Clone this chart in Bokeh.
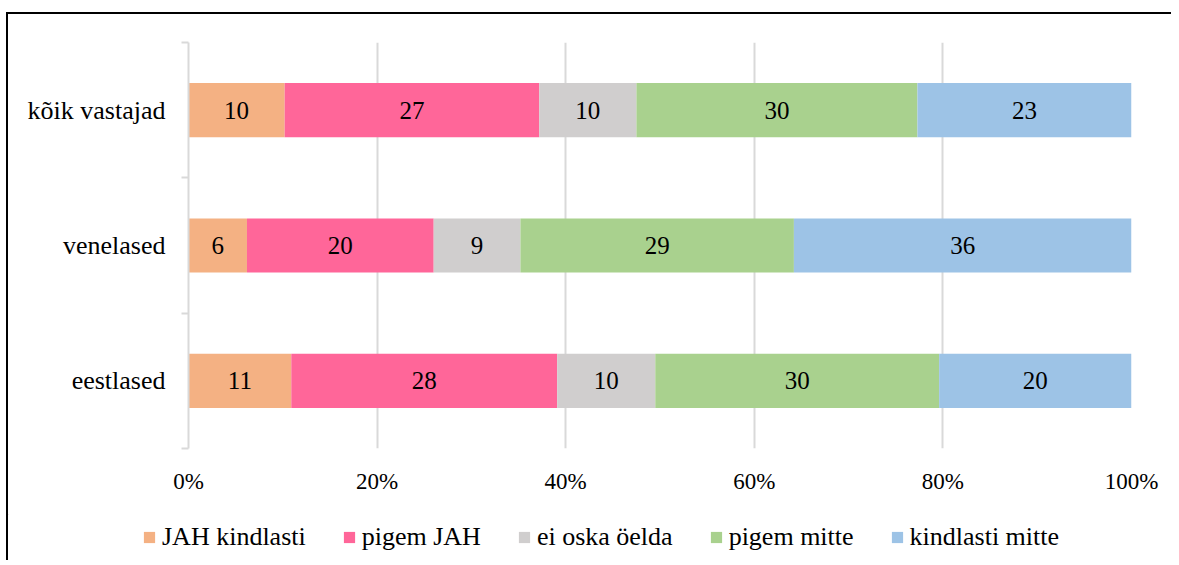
from bokeh.plotting import figure
from bokeh.layouts import column
from bokeh.models import (ColumnDataSource, Range1d, FixedTicker, PrintfTickFormatter,
                          Legend, LegendItem)
from bokeh.core.properties import value
from bokeh.embed import file_html
from bokeh.resources import INLINE

# ---- data (top to bottom) ----
categories = ["kõik vastajad", "venelased", "eestlased"]
series = ["JAH kindlasti", "pigem JAH", "ei oska öelda", "pigem mitte", "kindlasti mitte"]
jah_kindlasti = [10.2, 6.2, 10.9]
pigem_jah = [27.0, 19.8, 28.2]
ei_oska = [10.3, 9.2, 10.4]
pigem_mitte = [29.8, 29.0, 30.1]
kindlasti_mitte = [22.7, 35.8, 20.4]
x_ticks = [0, 20, 40, 60, 80, 100]
colors = ["#F4B183", "#FF6699", "#D0CECE", "#A9D18E", "#9DC3E6"]

FONT = "Liberation Serif"
GRID = "#D9D9D9"

values = [jah_kindlasti, pigem_jah, ei_oska, pigem_mitte, kindlasti_mitte]
keys = ["s%d" % i for i in range(len(series))]
n = len(categories)
ypos = [n - 1 - i for i in range(n)]

data = {"y": ypos}
for k, v in zip(keys, values):
    data[k] = v
source = ColumnDataSource(data)

p = figure(width=1163, height=500, output_backend="svg", toolbar_location=None,
           x_range=Range1d(0, 100), y_range=Range1d(-0.5, n - 0.5),
           min_border_left=180, min_border_right=40, min_border_top=28,
           min_border_bottom=66)
p.outline_line_color = None
p.background_fill_color = "white"
p.border_fill_color = "white"
p.frame_align = False

renderers = p.hbar_stack(keys, y="y", height=0.4, color=colors, line_color=None,
                         source=source)

# data labels
lx, ly, lt = [], [], []
for j in range(n):
    cum = 0.0
    for v in values:
        lx.append(cum + v[j] / 2.0)
        ly.append(ypos[j])
        lt.append("%.0f" % v[j])
        cum += v[j]
p.text(x=lx, y=ly, text=lt, text_align="center", text_baseline="middle",
       text_font=value(FONT), text_font_size="25px", text_color="black")

# x axis
p.xaxis.ticker = FixedTicker(ticks=x_ticks)
p.xaxis.formatter = PrintfTickFormatter(format="%d%%")
p.xaxis.axis_line_color = None
p.xaxis.major_tick_line_color = None
p.xaxis.minor_tick_line_color = None
p.xaxis.major_label_text_font = FONT
p.xaxis.major_label_text_font_size = "23px"
p.xaxis.major_label_text_color = "black"
p.xaxis.major_label_standoff = 14

p.xgrid.ticker = FixedTicker(ticks=x_ticks)
p.xgrid.grid_line_color = GRID
p.xgrid.grid_line_width = 2
p.ygrid.grid_line_color = None

# y axis
p.yaxis.ticker = FixedTicker(ticks=ypos, minor_ticks=[y - 0.5 for y in range(n + 1)])
p.yaxis.major_label_overrides = {ypos[i]: categories[i] for i in range(n)}
p.yaxis.axis_line_color = GRID
p.yaxis.axis_line_width = 2
p.yaxis.major_tick_line_color = None
p.yaxis.minor_tick_line_color = GRID
p.yaxis.minor_tick_line_width = 2
p.yaxis.minor_tick_out = 7
p.yaxis.minor_tick_in = 0
p.yaxis.major_label_text_font = FONT
p.yaxis.major_label_text_font_size = "26px"
p.yaxis.major_label_text_color = "black"
p.yaxis.major_label_standoff = 16

# legend in its own strip (dummy renderers lie far outside the strip's range)
pl = figure(width=1163, height=46, output_backend="svg", toolbar_location=None,
            x_range=Range1d(0, 1), y_range=Range1d(0, 1),
            x_axis_location=None, y_axis_location=None, min_border=0)
pl.outline_line_color = None
pl.grid.visible = False
pl.frame_align = False
pl.background_fill_color = "white"
pl.border_fill_color = "white"
dummies = [pl.hbar(y=[50], left=[-60], right=[-50], height=0.1, color=c, line_color=None)
           for c in colors]
legend = Legend(items=[LegendItem(label=s, renderers=[r]) for s, r in zip(series, dummies)],
                orientation="horizontal", location=(134, 8),
                label_text_font=FONT, label_text_font_size="26px",
                label_text_color="black",
                glyph_width=14, glyph_height=14, label_standoff=6, spacing=36,
                padding=0, margin=0, border_line_color=None,
                background_fill_alpha=0)
pl.add_layout(legend, "center")

layout = column(p, pl, spacing=0)
layout.margin = (12, 0, 0, 6)
layout.styles = {"border-left": "2px solid black", "border-top": "2px solid black"}

open("out.html", "w").write(file_html(layout, INLINE))
